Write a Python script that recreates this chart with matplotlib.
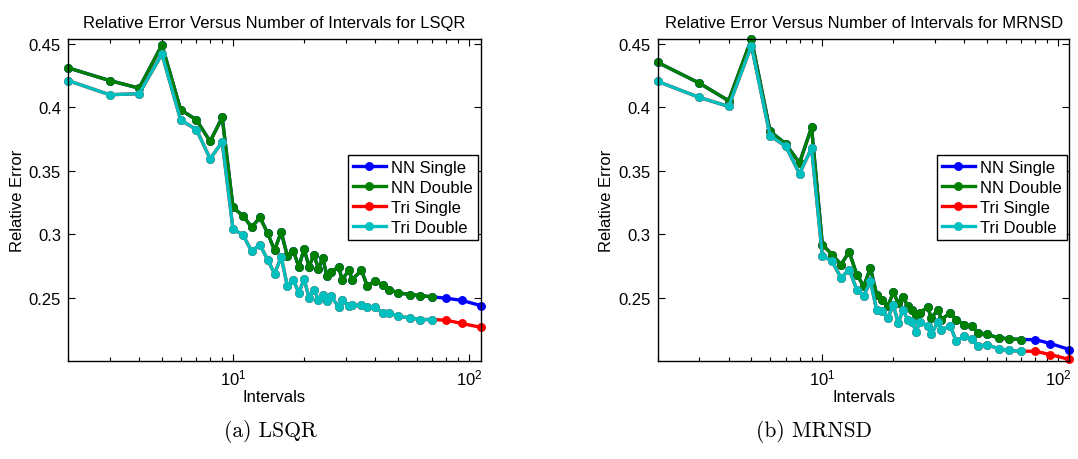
import matplotlib
matplotlib.use("Agg")
import matplotlib.pyplot as plt
from matplotlib.ticker import FixedLocator, LogLocator, NullFormatter, FormatStrFormatter

plt.rcParams['font.family'] = ['Liberation Sans', 'DejaVu Sans']

# Number of intervals (shared by every curve)
intervals = [2, 3, 4, 5, 6, 7, 8, 9, 10, 11, 12, 13, 14, 15, 16, 17, 18, 19, 20,
             21, 22, 23, 24, 25, 26, 28, 29, 31, 32, 35, 37, 40, 43, 46, 50, 56,
             62, 70, 80, 93, 112]
n_double = 38  # double precision runs stop at 70 intervals

# LSQR relative errors
lsqr_nn_single = [0.431, 0.421, 0.415, 0.449, 0.398, 0.390, 0.373, 0.392, 0.321, 0.3146,
                  0.3054, 0.3132, 0.301, 0.2873, 0.3017, 0.2825, 0.287, 0.2742, 0.2883,
                  0.2742, 0.2838, 0.2728, 0.2813, 0.2668, 0.2700, 0.2742, 0.2642, 0.2715,
                  0.2642, 0.2715, 0.2594, 0.2629, 0.2602, 0.2563, 0.2537, 0.2524, 0.2516,
                  0.2505, 0.2495, 0.2478, 0.2437]
lsqr_nn_double = lsqr_nn_single[:n_double]
lsqr_tri_single = [0.421, 0.4098, 0.4106, 0.4419, 0.390, 0.3823, 0.3594, 0.3726, 0.3038, 0.2996,
                   0.2865, 0.2917, 0.2799, 0.2689, 0.282, 0.2589, 0.2642, 0.2537, 0.2647,
                   0.2498, 0.2563, 0.2484, 0.2524, 0.2471, 0.2511, 0.2427, 0.2484, 0.2432,
                   0.2438, 0.2438, 0.2427, 0.2427, 0.2379, 0.2379, 0.2353, 0.2340, 0.2327,
                   0.2327, 0.2322, 0.2296, 0.2266]
lsqr_tri_double = lsqr_tri_single[:n_double]

# MRNSD relative errors
mrnsd_nn_single = [0.4353, 0.419, 0.4051, 0.4537, 0.381, 0.371, 0.356, 0.3841, 0.2917, 0.2839,
                   0.2760, 0.2860, 0.2681, 0.2589, 0.2734, 0.2524, 0.2484, 0.2432, 0.2542,
                   0.2458, 0.2505, 0.2437, 0.2405, 0.2366, 0.2380, 0.2427, 0.2340, 0.2405,
                   0.2327, 0.2380, 0.2327, 0.2287, 0.2274, 0.2222, 0.2209, 0.2183, 0.2175,
                   0.2169, 0.2169, 0.2138, 0.2090]
mrnsd_nn_double = mrnsd_nn_single[:n_double]
mrnsd_tri_single = [0.4203, 0.4077, 0.4006, 0.4484, 0.3776, 0.3691, 0.3476, 0.3679, 0.2831, 0.2786,
                    0.2655, 0.2720, 0.2563, 0.2516, 0.2629, 0.2405, 0.2392, 0.2340, 0.2445,
                    0.2297, 0.2405, 0.2327, 0.2310, 0.2231, 0.2310, 0.2274, 0.2209, 0.2310,
                    0.2248, 0.2274, 0.2156, 0.2195, 0.2175, 0.2117, 0.2130, 0.2096, 0.2083,
                    0.2077, 0.2077, 0.2051, 0.2012]
mrnsd_tri_double = mrnsd_tri_single[:n_double]

labels = ['NN Single', 'NN Double', 'Tri Single', 'Tri Double']
colors = ['#0000ff', '#008000', '#ff0000', '#00bfbf']
yticks = [0.25, 0.3, 0.35, 0.4, 0.45]

fig = plt.figure(figsize=(10.78, 4.60), dpi=100)
ax_l = fig.add_axes([0.0631, 0.213, 0.3828, 0.700])
ax_r = fig.add_axes([0.6101, 0.213, 0.3820, 0.700])


def draw(ax, series, title, caption, cap_x):
    xd = intervals[:n_double]
    xs = [intervals, xd, intervals, xd]
    for x, y, c, lab in zip(xs, series, colors, labels):
        ax.plot(x, y, '-o', color=c, lw=2.4, ms=5.4, label=lab, clip_on=False)
    ax.set_xscale('log')
    ax.set_xlim(2, 112)
    ax.set_ylim(0.2, 0.4537)
    ax.yaxis.set_major_locator(FixedLocator(yticks))
    ax.yaxis.set_major_formatter(FormatStrFormatter('%g'))
    ax.xaxis.set_major_locator(FixedLocator([10, 100]))
    ax.xaxis.set_minor_locator(LogLocator(base=10, subs=range(2, 10)))
    ax.xaxis.set_minor_formatter(NullFormatter())
    ax.tick_params(which='both', direction='in', top=True, right=True,
                   labelsize=12, width=0.8, colors='black')
    ax.tick_params(which='major', length=5, pad=5)
    ax.tick_params(which='minor', length=3)
    for s in ax.spines.values():
        s.set_linewidth(1.0)
    ax.set_title(title, fontsize=12, pad=9)
    ax.set_xlabel('Intervals', fontsize=12, labelpad=1)
    ax.set_ylabel('Relative Error', fontsize=12, labelpad=3)
    leg = ax.legend(loc='upper right', bbox_to_anchor=(0.993, 0.64), borderaxespad=0,
                    fontsize=12, handlelength=2.0, handletextpad=0.3,
                    labelspacing=0.3, borderpad=0.3, fancybox=False,
                    framealpha=1, edgecolor='black')
    leg.get_frame().set_linewidth(1.0)
    fig.text(cap_x, 1 - 432 / 460, caption, family='cmr10', fontsize=15.5,
             ha='center', va='center')


draw(ax_l, [lsqr_nn_single, lsqr_nn_double, lsqr_tri_single, lsqr_tri_double],
     'Relative Error Versus Number of Intervals for LSQR', '(a) LSQR', 270 / 1078)
draw(ax_r, [mrnsd_nn_single, mrnsd_nn_double, mrnsd_tri_single, mrnsd_tri_double],
     'Relative Error Versus Number of Intervals for MRNSD', '(b) MRNSD', 814 / 1078)

fig.savefig('out.png', dpi=100)
